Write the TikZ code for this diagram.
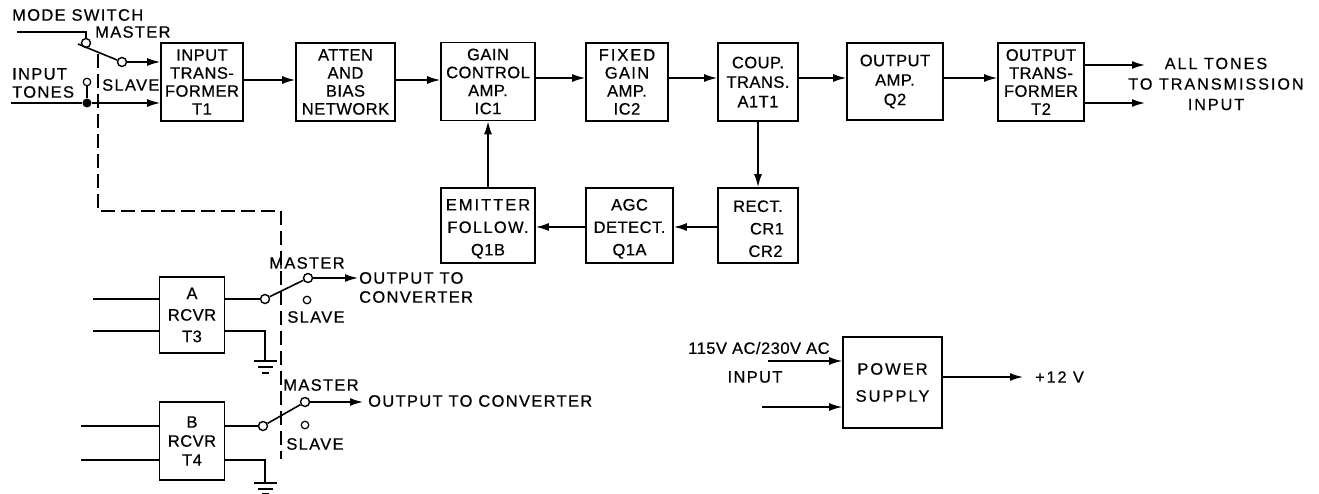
\documentclass[tikz,border=0pt]{standalone}
\usepackage{fontspec}
\setmainfont{Liberation Sans}
\newfontfamily\fa[LetterSpace=3,FakeBold=0.6]{Liberation Sans}
\newfontfamily\fb[LetterSpace=8,FakeBold=0.6]{Liberation Sans}
\newfontfamily\fc[LetterSpace=12,FakeBold=0.6]{Liberation Sans}
\usetikzlibrary{arrows.meta}
\tikzset{
 x=1pt,y=-1pt,
 blk/.style={draw,line width=1.6pt,align=center,inner sep=0pt,font=\fontsize{16.5}{18}\selectfont\fa},
 lab/.style={inner sep=0pt,align=center,font=\fontsize{16.5}{18}\selectfont\fb},
 wide/.style={inner sep=0pt,align=center,font=\fontsize{16.2}{20.5}\selectfont\fc},
 wire/.style={line width=1.6pt},
 arr/.style={line width=1.6pt,-{Latex[length=13pt,width=8pt]}},
 ctc/.style={draw,circle,fill=white,line width=1.4pt,minimum size=9pt,inner sep=0pt},
 ctcs/.style={draw,circle,fill=white,line width=1.2pt,minimum size=7.5pt,inner sep=0pt},
 dot/.style={circle,fill=black,minimum size=9pt,inner sep=0pt},
 link/.style={line width=1.5pt,dash pattern=on 14pt off 6pt},
 gnd/.style={line width=1.4pt}
}
\newcommand{\bx}[6]{\node[blk,minimum width=#4 pt,minimum height=#5 pt] (#1) at (#2,#3) {#6};}
\newcommand{\dn}{\rule{0pt}{18pt}}
\begin{document}
\begin{tikzpicture}
\useasboundingbox (0,0) rectangle (1319,494);
\bx{t1}{202}{82}{82}{78}{INPUT\\TRANS-\\FORMER\\T1}
\bx{atten}{345.5}{82}{99}{78}{ATTEN\\AND\\BIAS\\NETWORK}
\bx{gain}{488}{81.5}{94}{78}{GAIN\\CONTROL\\AMP.\\IC1}
\bx{fixed}{627}{82}{82}{78}{{\fc FIXED}\\{\fb GAIN}\\AMP.\\IC2}
\bx{coup}{758}{82}{80}{78}{COUP.\\[1.5pt]TRANS.\\[1.5pt]A1T1}
\bx{oamp}{895}{81.5}{96}{77}{OUTPUT\\[1.5pt]AMP.\\[1.5pt]Q2}
\bx{otr}{1041}{82}{86}{78}{OUTPUT\\TRANS-\\FORMER\\T2}
\bx{rect}{758}{225.5}{80}{75}{\dn RECT.\\[4.5pt]\hspace*{18pt}CR1\\[4.5pt]\hspace*{15pt}CR2}
\bx{agc}{629.5}{225.5}{87}{75}{\dn AGC\\[4.5pt]DETECT.\\[4.5pt]Q1A}
\bx{emit}{488}{225.5}{94}{75}{\dn{\fc EMITTER}\\[4.5pt]{\fb FOLLOW.}\\[4.5pt]Q1B}
\bx{ra}{192}{315}{65}{76}{A\\[3.5pt]RCVR\\[3.5pt]T3}
\bx{rb}{192}{441}{65}{78}{B\\[1pt]RCVR\\[1pt]T4}
\node[blk,minimum width=99pt,minimum height=91pt,font=\fontsize{16.5}{18}\selectfont\fc] (ps) at (892.5,382.5) {POWER\\[9pt]SUPPLY};
% main chain
\coordinate (ra1) at (0,80);
\coordinate (rb1) at (0,78);
\coordinate (rc1) at (0,227);
\draw[arr] (t1.east |- ra1) -- (atten.west |- ra1);
\draw[arr] (atten.east |- ra1) -- (gain.west |- ra1);
\draw[arr] (gain.east |- rb1) -- (fixed.west |- rb1);
\draw[arr] (fixed.east |- rb1) -- (coup.west |- rb1);
\draw[arr] (coup.east |- rb1) -- (oamp.west |- rb1);
\draw[arr] (oamp.east |- rb1) -- (otr.west |- rb1);
\draw[arr] (coup.south) -- (rect.north);
\draw[arr] (rect.west |- rc1) -- (agc.east |- rc1);
\draw[arr] (agc.west |- rc1) -- (emit.east |- rc1);
\draw[arr] (emit.north) -- (gain.south);
% outputs
\coordinate (o1) at (1145,65);
\coordinate (o2) at (1145,103);
\draw[arr] (otr.east |- o1) -- (o1);
\draw[arr] (otr.east |- o2) -- (o2);
\node[wide] (alltones) at (1216,84) {ALL TONES\\TO TRANSMISSION\\INPUT};
% mode switch
\node[lab,anchor=west] (mode) at (12,15) {MODE SWITCH};
\node[lab,anchor=west] (mast0) at (95,32) {MASTER};
\node[lab,anchor=west] (itones) at (12,74) {INPUT};
\node[lab,anchor=west] (itones2) at (12,92) {TONES};
\node[lab,anchor=west] (slv0) at (102,85) {SLAVE};
\coordinate (m0) at (17,32);
\coordinate (it0) at (11,103);
\coordinate (lv0) at (78,44);
\coordinate (m1) at (86,32);
\node[ctc] (s1) at (86,43) {};
\node[ctc] (s2) at (122,62) {};
\node[ctcs] (s3) at (87,82) {};
\node[dot] (jn) at (87,103) {};
\draw[wire] (m0) -- (m1) -- (s1);
\draw[wire] (lv0) -- (s2);
\draw[arr] (s2) -- (t1.west |- s2);
\draw[arr] (it0) -- (jn) -- (t1.west |- jn);
\draw[wire] (s3) -- (jn);
% mechanical link
\coordinate (k1) at (98,54);
\coordinate (k2) at (98,211);
\coordinate (k3) at (281,211);
\coordinate (k4) at (281,459);
\draw[link] (k1) -- (k2) -- (k3) -- (k4);
% receiver A
\coordinate (ain1) at (93,299);
\coordinate (ain2) at (93,331);
\node[ctc] (a1) at (265,299) {};
\node[ctc] (a2) at (308,278) {};
\node[ctcs] (a3) at (307,300) {};
\draw[wire] (ain1) -- (ra.west |- ain1);
\draw[wire] (ain2) -- (ra.west |- ain2);
\draw[wire] (ra.east |- a1) -- (a1);
\draw[wire] (a1) -- (a2);
\coordinate (ao) at (358,278);
\draw[arr] (a2) -- (ao);
\node[lab,anchor=west] (aout) at (359,278) {OUTPUT TO};
\node[lab,anchor=west] (aout2) at (359,297) {CONVERTER};
\node[lab] (amast) at (307,263) {MASTER};
\node[lab] (aslv) at (316,317) {SLAVE};
\coordinate (ac) at (265,331);
\coordinate (ag) at (265,361);
\draw[wire] (ra.east |- ac) -- (ac) -- (ag);
\draw[gnd] (254,361) -- (277,361) (258,367) -- (273,367) (262,373) -- (269,373);
% receiver B
\coordinate (bin1) at (81,426);
\coordinate (bin2) at (81,460);
\node[ctc] (b1) at (263,426) {};
\node[ctc] (b2) at (305,402) {};
\node[ctcs] (b3) at (305,425) {};
\draw[wire] (bin1) -- (rb.west |- bin1);
\draw[wire] (bin2) -- (rb.west |- bin2);
\draw[wire] (rb.east |- b1) -- (b1);
\draw[wire] (b1) -- (b2);
\coordinate (bo) at (363,402);
\draw[arr] (b2) -- (bo);
\node[lab,anchor=west] (bout) at (368,401) {OUTPUT TO CONVERTER};
\node[lab] (bmast) at (321,385) {MASTER};
\node[lab] (bslv) at (315,444) {SLAVE};
\coordinate (bc) at (265,460);
\coordinate (bg) at (265,483);
\draw[wire] (rb.east |- bc) -- (bc) -- (bg);
\draw[gnd] (254,483) -- (277,483) (258,489) -- (273,489) (262,493.5) -- (269,493.5);
% power supply
\node[lab,anchor=west,font=\fontsize{16.5}{18}\selectfont\fa] (pin) at (688,348) {115V AC/230V AC};
\node[lab] (pin2) at (755,377) {INPUT};
\coordinate (p1) at (768,361);
\coordinate (p2) at (762,407);
\coordinate (p3) at (1023,377);
\draw[arr] (p1) -- (ps.west |- p1);
\draw[arr] (p2) -- (ps.west |- p2);
\draw[arr] (ps.east |- p3) -- (p3);
\node[wide,anchor=west] (v12) at (1035,377) {+12 V};
\end{tikzpicture}
\end{document}
